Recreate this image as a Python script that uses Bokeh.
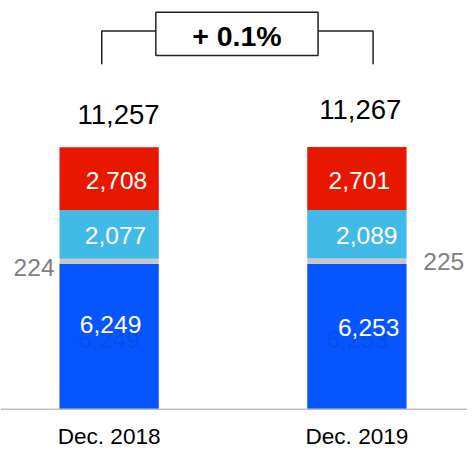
import numpy as np
from bokeh.plotting import figure
from bokeh.models import Range1d, Span
from bokeh.core.properties import value
from bokeh.embed import file_html
from bokeh.resources import INLINE

# ---- data ----
categories = ["Dec. 2018", "Dec. 2019"]
seg_blue = [6249, 6253]
seg_gray = [224, 225]
seg_lightblue = [2077, 2089]
seg_red = [2708, 2701]
totals = [11257, 11267]

# ---- layout (reference pixel geometry, scaled to the figure) ----
W, H = 467, 448
REF_W, REF_H = 475, 456
BASE_Y = 416.0                 # reference y of baseline
PX = 266.5 / 11257.0           # reference pixels per unit
BAR_C0, BAR_STEP = 110.5, 252.0
BAR_W_PX = 101.0
S = W / REF_W

def dx(ref_x):
    return (ref_x - BAR_C0) / BAR_STEP

def dy(ref_y):
    return (BASE_Y - ref_y) / PX

def fs(px):
    return f"{px * S:.1f}px"

xpos = np.arange(len(categories), dtype=float)

p = figure(width=W, height=H, output_backend="svg", toolbar_location=None,
           x_range=Range1d(dx(0), dx(REF_W)), y_range=Range1d(dy(REF_H), dy(0)),
           min_border=0, outline_line_color=None,
           x_axis_location=None, y_axis_location=None)
p.xgrid.visible = False
p.ygrid.visible = False
p.background_fill_color = "white"
p.border_fill_color = "white"

FONT = value("Liberation Sans")
bw = BAR_W_PX / BAR_STEP

segs = [seg_blue, seg_gray, seg_lightblue, seg_red]
colors = ["#0655FF", "#C8C8C8", "#42BAE8", "#E81800"]
bottom = np.zeros(len(categories))
bounds = []
for vals, col in zip(segs, colors):
    v = np.array(vals, dtype=float)
    p.vbar(x=xpos, bottom=bottom, top=bottom + v, width=bw,
           fill_color=col, line_color=None)
    bounds.append((bottom.copy(), bottom + v))
    bottom = bottom + v

# baseline
p.add_layout(Span(location=0, dimension="width", line_color="#BFBFBF", line_width=1.5))

def fmt(v):
    return f"{v:,}"

def px_x(px):
    return px / BAR_STEP

def px_y(px):
    return px / PX

# ghost labels under blue values
(b0, t0) = bounds[0]
p.text(x=xpos + px_x(np.array([0.0, 0.5])), y=(b0 + t0) / 2 - px_y(3),
       text=[fmt(v) for v in seg_blue], text_align="center", text_baseline="middle",
       text_font=FONT, text_font_size=fs(25), text_color="#1a1a40", text_alpha=0.12)

# blue labels
p.text(x=xpos + px_x(np.array([1.5, 12.0])), y=(b0 + t0) / 2 + px_y(np.array([12.5, 9.5])),
       text=[fmt(v) for v in seg_blue], text_align="center", text_baseline="middle",
       text_font=FONT, text_font_size=fs(25), text_color="white")

# light blue labels
(b2, t2) = bounds[2]
p.text(x=xpos + px_x(np.array([6.5, 10.0])), y=(b2 + t2) / 2 - px_y(1.5),
       text=[fmt(v) for v in seg_lightblue], text_align="center", text_baseline="middle",
       text_font=FONT, text_font_size=fs(25), text_color="white")

# red labels
(b3, t3) = bounds[3]
p.text(x=xpos + px_x(np.array([7.5, 2.5])), y=(b3 + t3) / 2 - px_y(1.5),
       text=[fmt(v) for v in seg_red], text_align="center", text_baseline="middle",
       text_font=FONT, text_font_size=fs(25), text_color="white")

# gray labels (outside bars)
(b1, t1) = bounds[1]
gmid = (b1 + t1) / 2
p.text(x=[xpos[0] - bw / 2 - px_x(5)], y=[gmid[0] - px_y(6)], text=[fmt(seg_gray[0])],
       text_align="right", text_baseline="middle", text_font=FONT,
       text_font_size=fs(25), text_color="#808080")
p.text(x=[xpos[1] + bw / 2 + px_x(17)], y=[gmid[1]], text=[fmt(seg_gray[1])],
       text_align="left", text_baseline="middle", text_font=FONT,
       text_font_size=fs(25), text_color="#808080")

# totals
tot = np.array(totals, dtype=float)
p.text(x=xpos + px_x(np.array([9.5, 3.5])), y=tot + px_y(np.array([33.0, 38.0])),
       text=[fmt(v) for v in totals], text_align="center", text_baseline="middle",
       text_font=FONT, text_font_size=fs(28), text_color="black")

# category labels
p.text(x=xpos, y=np.full(len(categories), -px_y(28)), text=categories,
       text_align="center", text_baseline="middle", text_font=FONT,
       text_font_size=fs(23), text_color="black")

# bracket with growth box
xl, xr = dx(103), dx(379)
y_low, y_br = dy(65), dy(31)
bx0, bx1, by0, by1 = dx(158), dx(323), dy(56), dy(12)
p.line(x=[xl, xl, bx0], y=[y_low, y_br, y_br], line_color="#222222", line_width=1.5)
p.line(x=[bx1, xr, xr], y=[y_br, y_br, y_low], line_color="#222222", line_width=1.5)
p.quad(left=[bx0], right=[bx1], bottom=[by0], top=[by1], fill_color="white",
       line_color="#222222", line_width=1.5)
growth = (totals[1] / totals[0] - 1) * 100
p.text(x=[(bx0 + bx1) / 2], y=[dy(36)], text=[f"+ {growth:.1f}%"],
       text_align="center", text_baseline="middle", text_font=FONT,
       text_font_size=fs(29), text_font_style="bold", text_color="black")

open("out.html", "w").write(file_html(p, INLINE))
